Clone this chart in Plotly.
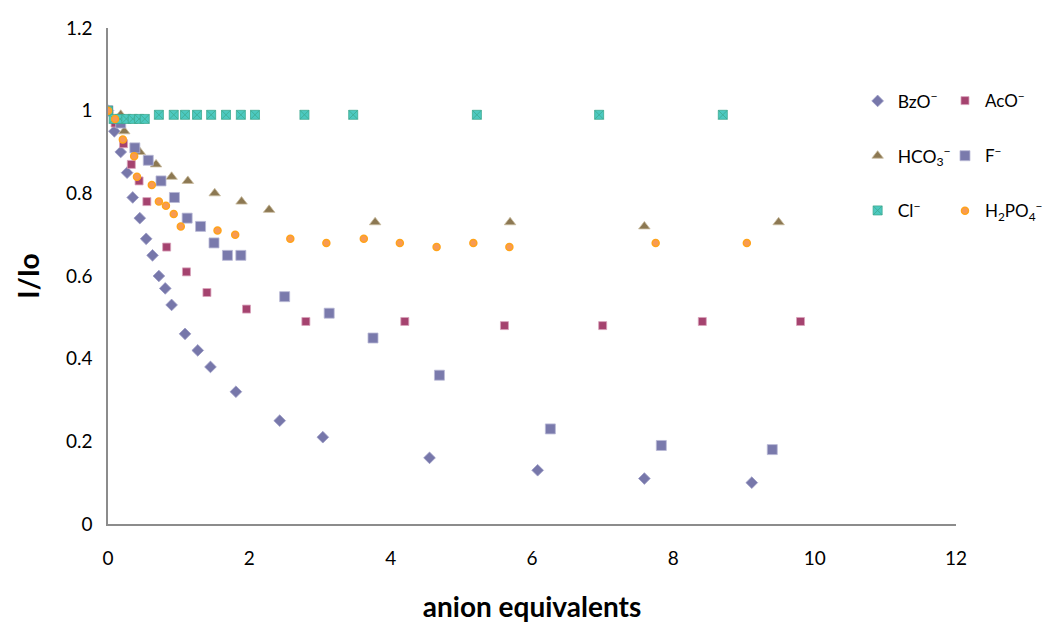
import plotly.graph_objects as go

bzo_x = [0, 0.09, 0.18, 0.27, 0.35, 0.45, 0.54, 0.63, 0.72, 0.81, 0.90, 1.09, 1.27, 1.45, 1.81, 2.43, 3.04, 4.55, 6.08, 7.59, 9.11]
bzo_y = [1.00, 0.95, 0.90, 0.85, 0.79, 0.74, 0.69, 0.65, 0.60, 0.57, 0.53, 0.46, 0.42, 0.38, 0.32, 0.25, 0.21, 0.16, 0.13, 0.11, 0.10]

aco_x = [0, 0.10, 0.22, 0.33, 0.44, 0.55, 0.83, 1.11, 1.40, 1.96, 2.80, 4.20, 5.61, 7.00, 8.41, 9.80]
aco_y = [1.00, 0.97, 0.92, 0.87, 0.83, 0.78, 0.67, 0.61, 0.56, 0.52, 0.49, 0.49, 0.48, 0.48, 0.49, 0.49]

hco3_x = [0, 0.18, 0.23, 0.45, 0.68, 0.90, 1.13, 1.51, 1.89, 2.28, 3.78, 5.69, 7.59, 9.49]
hco3_y = [1.00, 0.99, 0.95, 0.90, 0.87, 0.84, 0.83, 0.80, 0.78, 0.76, 0.73, 0.73, 0.72, 0.73]

f_x = [0, 0.18, 0.38, 0.57, 0.75, 0.94, 1.12, 1.31, 1.50, 1.69, 1.88, 2.50, 3.13, 3.75, 4.69, 6.26, 7.83, 9.40]
f_y = [1.00, 0.97, 0.91, 0.88, 0.83, 0.79, 0.74, 0.72, 0.68, 0.65, 0.65, 0.55, 0.51, 0.45, 0.36, 0.23, 0.19, 0.18]

cl_x = [0, 0.08, 0.17, 0.26, 0.35, 0.44, 0.52, 0.72, 0.93, 1.09, 1.26, 1.46, 1.67, 1.88, 2.08, 2.78, 3.47, 5.22, 6.95, 8.70]
cl_y = [1.00, 0.98, 0.98, 0.98, 0.98, 0.98, 0.98, 0.99, 0.99, 0.99, 0.99, 0.99, 0.99, 0.99, 0.99, 0.99, 0.99, 0.99, 0.99, 0.99]

h2po4_x = [0, 0.10, 0.21, 0.37, 0.41, 0.62, 0.72, 0.82, 0.93, 1.03, 1.55, 1.80, 2.58, 3.09, 3.62, 4.13, 4.65, 5.17, 5.68, 7.75, 9.04]
h2po4_y = [1.00, 0.98, 0.93, 0.89, 0.84, 0.82, 0.78, 0.77, 0.75, 0.72, 0.71, 0.70, 0.69, 0.68, 0.69, 0.68, 0.67, 0.68, 0.67, 0.68, 0.68]

FONT = "Lato, 'Open Sans', sans-serif"

fig = go.Figure()

fig.add_trace(go.Scatter(x=bzo_x, y=bzo_y, mode="markers", name="BzO<sup>−</sup>",
                         legend="legend", legendgroup="a",
                         marker=dict(symbol="diamond", size=9, color="#7777AA",
                                     line=dict(color="#9A9AC4", width=0.8))))
fig.add_trace(go.Scatter(x=aco_x, y=aco_y, mode="markers", name="AcO<sup>−</sup>",
                         legend="legend2", legendgroup="b",
                         marker=dict(symbol="square", size=8, color="#A5436F",
                                     line=dict(color="#D9A3BB", width=0.8))))
fig.add_trace(go.Scatter(x=hco3_x, y=hco3_y, mode="markers", name="HCO<sub>3</sub><sup>−</sup>",
                         legend="legend", legendgroup="c",
                         marker=dict(symbol="triangle-up", size=10, color="#8C7852",
                                     line=dict(color="#C9BB9E", width=0.8))))
fig.add_trace(go.Scatter(x=f_x, y=f_y, mode="markers", name="F<sup>−</sup>",
                         legend="legend2", legendgroup="d",
                         marker=dict(symbol="square", size=10, color="#7A7AAC",
                                     line=dict(color="#B9B9D6", width=0.8))))
fig.add_trace(go.Scatter(x=cl_x, y=cl_y, mode="markers", name="Cl<sup>−</sup>",
                         legend="legend", legendgroup="e",
                         marker=dict(symbol="square-x", size=9, color="#4CC9C0",
                                     line=dict(color="#3FA98F", width=0.8))))
fig.add_trace(go.Scatter(x=h2po4_x, y=h2po4_y, mode="markers", name="H<sub>2</sub>PO<sub>4</sub><sup>−</sup>",
                         legend="legend2", legendgroup="f",
                         marker=dict(symbol="circle", size=7, color="#F79A55",
                                     line=dict(color="#FFA31A", width=1.5))))

axis_common = dict(showline=True, linecolor="#8C8C8C", linewidth=1.5, showgrid=False,
                   zeroline=False, ticks="", automargin=False,
                   tickfont=dict(family=FONT, size=19, color="#000000"))

fig.update_layout(
    width=1042, height=618,
    paper_bgcolor="white", plot_bgcolor="white",
    margin=dict(l=100, r=94, t=20, b=102, autoexpand=False),
    font=dict(family=FONT, color="#000000"),
    xaxis=dict(range=[0, 12], tickvals=[0, 2, 4, 6, 8, 10, 12], ticklabelstandoff=16,
               title=dict(text="<b>anion equivalents</b>", font=dict(family=FONT, size=28), standoff=30),
               **axis_common),
    yaxis=dict(range=[0, 1.2], tickvals=[0, 0.2, 0.4, 0.6, 0.8, 1.0, 1.2],
               ticktext=["0", "0.2", "0.4", "0.6", "0.8", "1", "1.2"], ticklabelstandoff=10,
               title=dict(text="<b>I/Io</b>", font=dict(family=FONT, size=28), standoff=18),
               **axis_common),
    legend=dict(x=0.884, y=0.889, xanchor="left", yanchor="top", bgcolor="rgba(0,0,0,0)",
                font=dict(family=FONT, size=17.5), tracegroupgap=29, itemwidth=30),
    legend2=dict(x=0.987, y=0.889, xanchor="left", yanchor="top", bgcolor="rgba(0,0,0,0)",
                 font=dict(family=FONT, size=17), tracegroupgap=30, itemwidth=30),
)

fig.write_html("out.html")
